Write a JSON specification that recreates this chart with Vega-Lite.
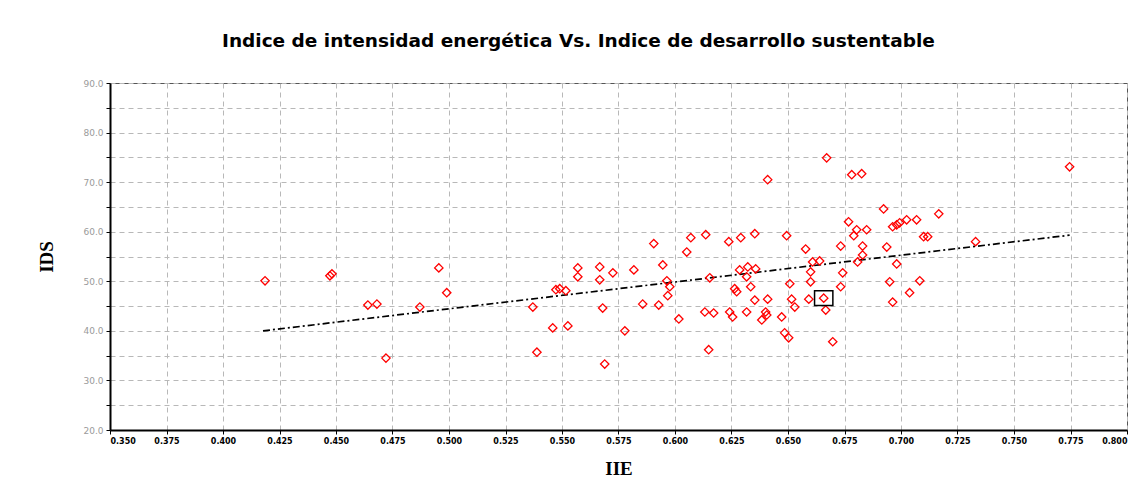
{
  "$schema": "https://vega.github.io/schema/vega-lite/v6.json",
  "width": 1017,
  "height": 347,
  "autosize": {"type": "none"},
  "padding": {"left": 110, "top": 83, "right": 19, "bottom": 69},
  "background": "white",
  "title": {
    "text": "Indice de intensidad energética Vs. Indice de desarrollo sustentable",
    "anchor": "start",
    "frame": "group",
    "dx": 112,
    "offset": 29,
    "font": "DejaVu Sans",
    "fontSize": 18.5,
    "fontWeight": "bold",
    "color": "#000000"
  },
  "config": {
    "view": {"stroke": "#555555", "strokeWidth": 1},
    "axis": {
      "domainColor": "#000000",
      "domainWidth": 2,
      "tickColor": "#000000",
      "tickSize": 4,
      "grid": true,
      "gridColor": "#b8b8b8",
      "gridDash": [5, 4],
      "gridWidth": 1
    }
  },
  "datasets": {
    "pts": [
      {"iie": 0.4186, "ids": 50.1}, {"iie": 0.4473, "ids": 51.1}, {"iie": 0.4482, "ids": 51.5},
      {"iie": 0.4641, "ids": 45.2}, {"iie": 0.4681, "ids": 45.4}, {"iie": 0.4721, "ids": 34.5},
      {"iie": 0.4871, "ids": 44.8}, {"iie": 0.4955, "ids": 52.7}, {"iie": 0.4990, "ids": 47.7},
      {"iie": 0.5371, "ids": 44.8}, {"iie": 0.5389, "ids": 35.7}, {"iie": 0.5459, "ids": 40.6},
      {"iie": 0.5473, "ids": 48.3}, {"iie": 0.5490, "ids": 48.5}, {"iie": 0.5517, "ids": 48.1},
      {"iie": 0.5526, "ids": 41.0}, {"iie": 0.5570, "ids": 52.7}, {"iie": 0.5570, "ids": 50.9},
      {"iie": 0.5667, "ids": 52.9}, {"iie": 0.5667, "ids": 50.3}, {"iie": 0.5680, "ids": 44.6},
      {"iie": 0.5689, "ids": 33.3}, {"iie": 0.5725, "ids": 51.7}, {"iie": 0.5778, "ids": 40.0},
      {"iie": 0.5818, "ids": 52.3}, {"iie": 0.5857, "ids": 45.4}, {"iie": 0.5906, "ids": 57.6},
      {"iie": 0.5928, "ids": 45.2}, {"iie": 0.5946, "ids": 53.3}, {"iie": 0.5968, "ids": 47.1},
      {"iie": 0.5977, "ids": 48.9}, {"iie": 0.5964, "ids": 50.1}, {"iie": 0.6017, "ids": 42.4},
      {"iie": 0.6052, "ids": 55.9}, {"iie": 0.6070, "ids": 58.8}, {"iie": 0.6136, "ids": 59.4},
      {"iie": 0.6238, "ids": 58.0}, {"iie": 0.6291, "ids": 58.8}, {"iie": 0.6353, "ids": 59.6},
      {"iie": 0.6494, "ids": 59.2}, {"iie": 0.6578, "ids": 56.5}, {"iie": 0.6733, "ids": 57.1},
      {"iie": 0.6768, "ids": 62.0}, {"iie": 0.6804, "ids": 60.4}, {"iie": 0.6830, "ids": 57.1},
      {"iie": 0.6609, "ids": 53.9}, {"iie": 0.6640, "ids": 54.1}, {"iie": 0.6286, "ids": 52.3},
      {"iie": 0.6322, "ids": 52.9}, {"iie": 0.6357, "ids": 52.5}, {"iie": 0.6317, "ids": 50.9},
      {"iie": 0.6600, "ids": 51.9}, {"iie": 0.6742, "ids": 51.7}, {"iie": 0.6508, "ids": 49.5},
      {"iie": 0.6600, "ids": 49.9}, {"iie": 0.6335, "ids": 48.9}, {"iie": 0.6264, "ids": 48.5},
      {"iie": 0.6273, "ids": 47.9}, {"iie": 0.6733, "ids": 48.9}, {"iie": 0.6353, "ids": 46.2},
      {"iie": 0.6410, "ids": 46.4}, {"iie": 0.6516, "ids": 46.4}, {"iie": 0.6592, "ids": 46.4},
      {"iie": 0.6658, "ids": 46.6}, {"iie": 0.6530, "ids": 44.8}, {"iie": 0.6667, "ids": 44.2},
      {"iie": 0.6132, "ids": 43.8}, {"iie": 0.6171, "ids": 43.6}, {"iie": 0.6242, "ids": 43.8},
      {"iie": 0.6255, "ids": 42.8}, {"iie": 0.6317, "ids": 43.8}, {"iie": 0.6401, "ids": 43.8},
      {"iie": 0.6406, "ids": 43.2}, {"iie": 0.6384, "ids": 42.2}, {"iie": 0.6472, "ids": 42.8},
      {"iie": 0.6485, "ids": 39.6}, {"iie": 0.6503, "ids": 38.6}, {"iie": 0.6149, "ids": 36.2},
      {"iie": 0.6698, "ids": 37.8}, {"iie": 0.6671, "ids": 74.9}, {"iie": 0.6410, "ids": 70.5},
      {"iie": 0.6782, "ids": 71.5}, {"iie": 0.6826, "ids": 71.7}, {"iie": 0.6154, "ids": 50.7},
      {"iie": 0.6923, "ids": 64.6}, {"iie": 0.6963, "ids": 61.0}, {"iie": 0.6981, "ids": 61.4},
      {"iie": 0.6994, "ids": 61.8}, {"iie": 0.7025, "ids": 62.4}, {"iie": 0.7069, "ids": 62.4},
      {"iie": 0.7167, "ids": 63.6}, {"iie": 0.7100, "ids": 59.0}, {"iie": 0.7118, "ids": 59.0},
      {"iie": 0.6848, "ids": 60.4}, {"iie": 0.6791, "ids": 59.2}, {"iie": 0.6937, "ids": 56.9},
      {"iie": 0.6830, "ids": 55.3}, {"iie": 0.6808, "ids": 53.9}, {"iie": 0.6981, "ids": 53.5},
      {"iie": 0.6950, "ids": 49.9}, {"iie": 0.7038, "ids": 47.7}, {"iie": 0.7083, "ids": 50.1},
      {"iie": 0.6963, "ids": 45.8}, {"iie": 0.7330, "ids": 58.0}, {"iie": 0.7746, "ids": 73.1}
    ],
    "trend": [
      {"iie": 0.4177, "ids": 40.0},
      {"iie": 0.7746, "ids": 59.3}
    ],
    "highlight": [
      {"iie": 0.6658, "ids": 46.6}
    ]
  },
  "encoding": {
    "x": {
      "field": "iie",
      "type": "quantitative",
      "scale": {"domain": [0.35, 0.8], "nice": false, "zero": false},
      "axis": {
        "title": "IIE",
        "titleFont": "Liberation Serif",
        "titleFontSize": 19,
        "titleFontWeight": "bold",
        "titleColor": "#000000",
        "titlePadding": 14,
        "values": [0.35, 0.375, 0.4, 0.425, 0.45, 0.475, 0.5, 0.525, 0.55, 0.575, 0.6, 0.625, 0.65, 0.675, 0.7, 0.725, 0.75, 0.775, 0.8],
        "format": ".3f",
        "labelFont": "DejaVu Sans",
        "labelFontSize": 8,
        "labelFontWeight": "bold",
        "labelColor": "#000000",
        "labelPadding": 3
      }
    },
    "y": {
      "field": "ids",
      "type": "quantitative",
      "scale": {"domain": [20, 90], "nice": false, "zero": false},
      "axis": {
        "title": "IDS",
        "titleFont": "Liberation Serif",
        "titleFontSize": 19,
        "titleFontWeight": "bold",
        "titleColor": "#000000",
        "titlePadding": 26,
        "values": [20, 25, 30, 35, 40, 45, 50, 55, 60, 65, 70, 75, 80, 85, 90],
        "labelExpr": "datum.value % 10 == 0 ? format(datum.value, '.1f') : ''",
        "labelFont": "DejaVu Sans",
        "labelFontSize": 9,
        "labelColor": "#9a9a9a",
        "labelPadding": 3
      }
    }
  },
  "layer": [
    {
      "data": {"name": "trend"},
      "mark": {"type": "line", "color": "#000000", "strokeWidth": 1.7, "strokeDash": [7, 3, 2, 3]}
    },
    {
      "data": {"name": "pts"},
      "mark": {"type": "point", "shape": "diamond", "filled": false, "color": "#ff0000", "size": 70, "strokeWidth": 1.3, "opacity": 1}
    },
    {
      "data": {"name": "highlight"},
      "mark": {"type": "point", "shape": "M-1,-0.8H1V0.8H-1Z", "filled": false, "color": "#000000", "size": 335, "strokeWidth": 1.5, "opacity": 1}
    }
  ]
}
